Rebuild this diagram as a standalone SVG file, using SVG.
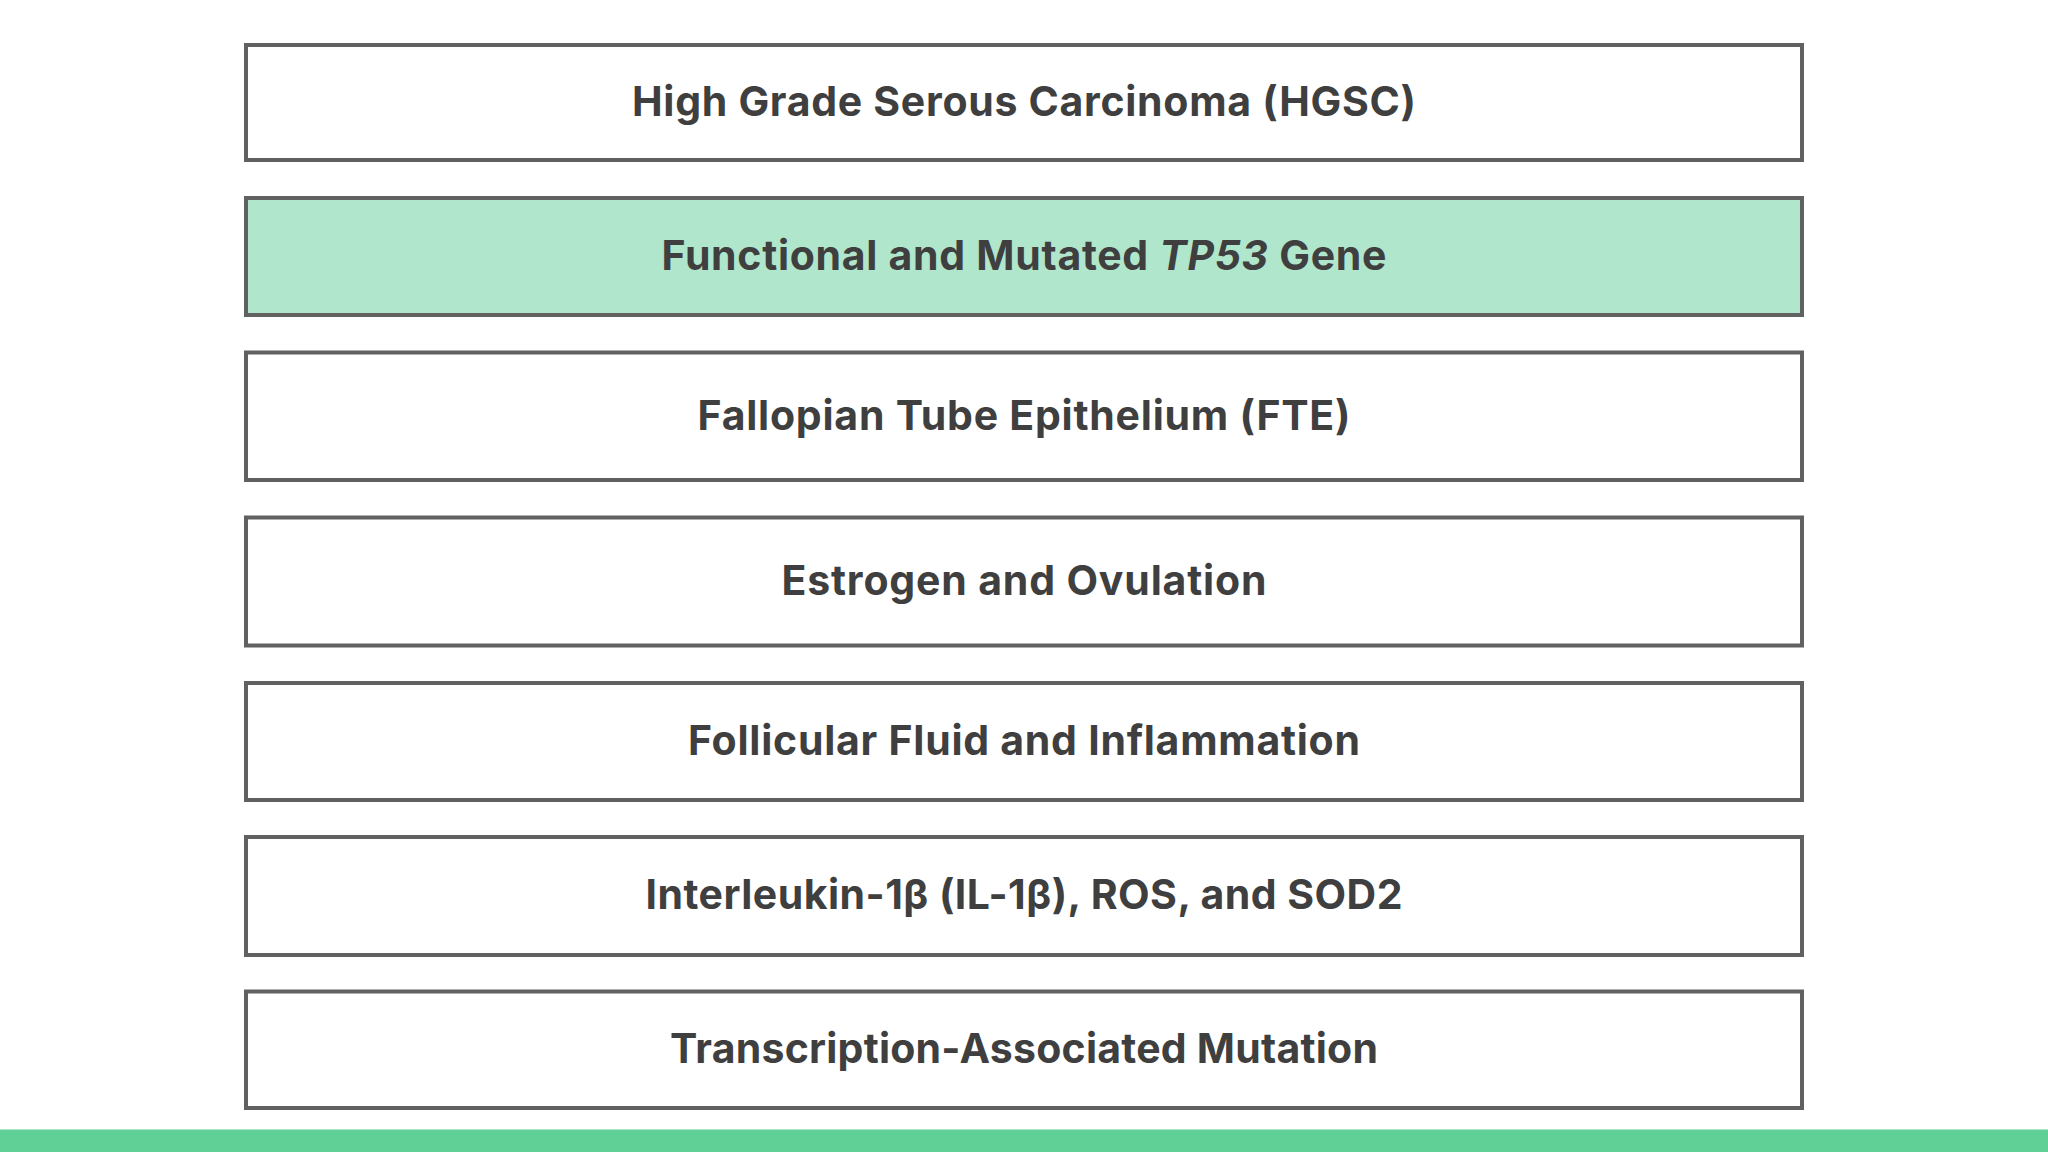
<svg xmlns="http://www.w3.org/2000/svg" width="2048" height="1152" viewBox="0 0 2048 1152">
<style>
.box{fill:#ffffff;stroke:#616161;stroke-width:4}
.hl{fill:#b0e6cc}
.t{font-family:Inter,Lato,"Liberation Sans",sans-serif;font-weight:700;font-size:41px;fill:#3f3f3f;text-anchor:middle;font-variant-ligatures:none}
</style>
<rect x="0" y="0" width="2048" height="1152" fill="#ffffff"/>
<g id="connectors"></g>
<g id="n1"><rect class="box" x="246" y="45" width="1556" height="115"/><text class="t" x="1024" y="116" textLength="784" lengthAdjust="spacing">High Grade Serous Carcinoma (HGSC)</text></g>
<g id="n2"><rect class="box hl" x="246" y="198" width="1556" height="117"/><text class="t" x="1024" y="270" textLength="725" lengthAdjust="spacing">Functional and Mutated <tspan font-style="italic">TP53</tspan> Gene</text></g>
<g id="n3"><rect class="box" x="246" y="352.5" width="1556" height="127.5"/><text class="t" x="1024" y="430" textLength="653" lengthAdjust="spacing">Fallopian Tube Epithelium (FTE)</text></g>
<g id="n4"><rect class="box" x="246" y="517.5" width="1556" height="128"/><text class="t" x="1024" y="595" textLength="485" lengthAdjust="spacing">Estrogen and Ovulation</text></g>
<g id="n5"><rect class="box" x="246" y="683" width="1556" height="117"/><text class="t" x="1024" y="755" textLength="672" lengthAdjust="spacing">Follicular Fluid and Inflammation</text></g>
<g id="n6"><rect class="box" x="246" y="837" width="1556" height="118"/><text class="t" x="1024" y="909" textLength="757" lengthAdjust="spacing">Interleukin-1β (IL-1β), ROS, and SOD2</text></g>
<g id="n7"><rect class="box" x="246" y="991.5" width="1556" height="116.5"/><text class="t" x="1024" y="1063" textLength="708" lengthAdjust="spacing">Transcription-Associated Mutation</text></g>
<rect id="bar" x="0" y="1129.5" width="2048" height="22.5" fill="#60d096"/>
</svg>
